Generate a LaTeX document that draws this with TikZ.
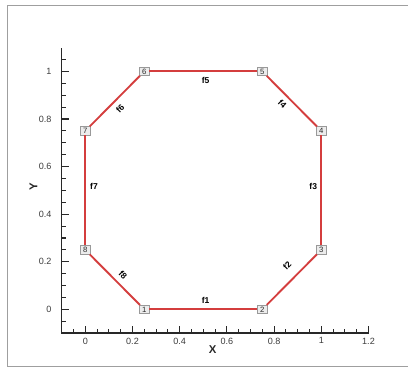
\documentclass[tikz,border=0pt]{standalone}
\usepackage{fontspec}
\setmainfont{Liberation Sans}
\definecolor{edgered}{RGB}{212,62,62}
\definecolor{axisgray}{RGB}{40,40,40}
\definecolor{labgray}{RGB}{60,60,60}
\begin{document}
\begin{tikzpicture}[x=0.75pt,y=-0.75pt,
  axisline/.style={draw=axisgray, line width=1.2pt},
  tickline/.style={draw=axisgray, line width=0.8pt},
  ticklab/.style={text=labgray, font=\fontsize{6.8pt}{7pt}\selectfont, inner sep=0pt},
  axlab/.style={text=axisgray, font=\fontsize{8.5pt}{9pt}\selectfont\bfseries, inner sep=0pt},
  vbox/.style={draw=gray!80, fill=gray!15, line width=0.5pt, minimum width=6.8pt, minimum height=6.2pt, inner sep=0pt, text=axisgray, font=\fontsize{5.8pt}{6pt}\selectfont},
  edgeline/.style={draw=edgered, line width=1.4pt},
  elab/.style={text=black, font=\fontsize{6.4pt}{7pt}\selectfont\bfseries, inner sep=0pt}]
\useasboundingbox (0,0) rectangle (408,368);
\draw[gray!75, line width=0.9pt] (420,5.5) -- (7.5,5.5) -- (7.5,366.5) -- (420,366.5);
\begin{scope}[shift={(85.3,309.4)}, x=177pt, y=178.5pt]
  % axes
  \coordinate (xa) at (-0.1,-0.1);
  \coordinate (xb) at (1.2,-0.1);
  \coordinate (yb) at (-0.1,1.1);
  \draw[axisline] (xb) -- (xa) -- (yb);
  % x ticks
  \foreach \i in {-1,...,24}{
    \pgfmathsetmacro{\xv}{\i*0.05}
    \pgfmathtruncatemacro{\m}{mod(\i+400,4)}
    \ifnum\m=0
      \draw[tickline] (\xv,-0.1) -- ++(0,5.2pt);
    \else
      \draw[tickline] (\xv,-0.1) -- ++(0,3pt);
    \fi
  }
  % y ticks
  \foreach \i in {-1,...,21}{
    \pgfmathsetmacro{\yv}{\i*0.05}
    \pgfmathtruncatemacro{\m}{mod(\i+400,4)}
    \ifnum\m=0
      \draw[tickline] (-0.1,\yv) -- ++(5.2pt,0);
    \else
      \draw[tickline] (-0.1,\yv) -- ++(3pt,0);
    \fi
  }
  % tick labels
  \foreach \v/\t [count=\k] in {0/0,0.2/0.2,0.4/0.4,0.6/0.6,0.8/0.8,1/1,1.2/1.2}{
    \node[ticklab, anchor=north] (xl\k) at ([yshift=-3.2pt]\v,-0.1) {\t};
  }
  \foreach \v/\t [count=\k] in {0/0,0.2/0.2,0.4/0.4,0.6/0.6,0.8/0.8,1/1}{
    \node[ticklab, anchor=east] (yl\k) at ([xshift=-7.5pt]-0.1,\v) {\t};
  }
  \node[axlab] (xlab) at (0.54,-0.167) {X};
  \node[axlab, rotate=90] (ylab) at (-0.22,0.515) {Y};
  % vertices
  \node[vbox] (v1) at (0.25,0) {1};
  \node[vbox] (v2) at (0.75,0) {2};
  \node[vbox] (v3) at (1,0.25) {3};
  \node[vbox] (v4) at (1,0.75) {4};
  \node[vbox] (v5) at (0.75,1) {5};
  \node[vbox] (v6) at (0.25,1) {6};
  \node[vbox] (v7) at (0,0.75) {7};
  \node[vbox] (v8) at (0,0.25) {8};
  % edges
  \draw[edgeline] (v1) -- (v2);
  \draw[edgeline] (v2) -- (v3);
  \draw[edgeline] (v3) -- (v4);
  \draw[edgeline] (v4) -- (v5);
  \draw[edgeline] (v5) -- (v6);
  \draw[edgeline] (v6) -- (v7);
  \draw[edgeline] (v7) -- (v8);
  \draw[edgeline] (v8) -- (v1);
  % edge labels
  \node[elab] (f1) at (0.51,0.036) {f1};
  \node[elab, rotate=45] (f2) at (0.855,0.183) {f2};
  \node[elab] (f3) at (0.966,0.515) {f3};
  \node[elab, rotate=-45] (f4) at (0.835,0.862) {f4};
  \node[elab] (f5) at (0.51,0.963) {f5};
  \node[elab, rotate=45] (f6) at (0.148,0.842) {f6};
  \node[elab] (f7) at (0.037,0.515) {f7};
  \node[elab, rotate=-45] (f8) at (0.16,0.145) {f8};
\end{scope}
\end{tikzpicture}
\end{document}
